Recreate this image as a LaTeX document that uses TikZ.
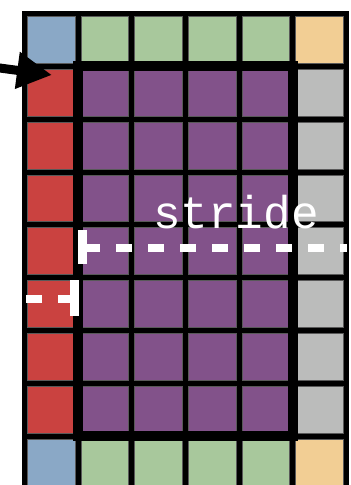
\documentclass[tikz,border=0pt]{standalone}
\usepackage{fontspec}
\newfontfamily\stridefont{Liberation Mono}
\usetikzlibrary{arrows.meta}
\definecolor{cblue}{RGB}{138,168,198}
\definecolor{cgreen}{RGB}{168,200,156}
\definecolor{corange}{RGB}{242,206,148}
\definecolor{cred}{RGB}{202,66,64}
\definecolor{cpurple}{RGB}{130,82,138}
\definecolor{cgray}{RGB}{187,188,187}
\begin{document}
\begin{tikzpicture}[x=1pt,y=-1pt,
  cell/.style={draw=black!65, line width=0.6pt, minimum width=47.6pt, minimum height=46.8pt, inner sep=0pt, outer sep=0pt},
  thickbox/.style={line width=10pt},
  dashline/.style={white, line width=8pt, dash pattern=on 16pt off 16pt},
  tickline/.style={white, line width=8.5pt},
  label/.style={text=white, font=\stridefont\fontsize{46}{46}\selectfont, anchor=base, inner sep=0pt}]
\useasboundingbox (0,0) rectangle (351,485);
\def\cw{53.6}
\def\ch{52.8}
\def\xo{24.5}
\def\yo{13.5}
% black background forming the grid lines
\fill[black] ({\xo-2.5},{\yo-2.5}) rectangle ({\xo+6*\cw+2.5},{\yo+9*\ch+2.5});
% cells
\foreach \r in {0,8}
  \foreach \c/\col in {0/cblue,1/cgreen,2/cgreen,3/cgreen,4/cgreen,5/corange}
    \node[cell,fill=\col] (c-\r-\c) at ({\xo+(\c+0.5)*\cw},{\yo+(\r+0.5)*\ch}) {};
\foreach \r in {1,...,7}
  \foreach \c/\col in {0/cred,1/cpurple,2/cpurple,3/cpurple,4/cpurple,5/cgray}
    \node[cell,fill=\col] (c-\r-\c) at ({\xo+(\c+0.5)*\cw},{\yo+(\r+0.5)*\ch}) {};
% thick inner rectangle
\coordinate (inTL) at ({\xo+\cw},{\yo+\ch});
\coordinate (inBR) at ({\xo+5*\cw},{\yo+8*\ch});
\draw[thickbox] (inTL) rectangle (inBR);
% label
\node[label] (stride) at (236,228) {stride};
% upper stride marker
\coordinate (ut0) at (82.5,230);
\coordinate (ut1) at (82.5,264);
\coordinate (u0) at (84,248);
\coordinate (u1) at (347,248);
\draw[dashline] (u0) -- (u1);
\draw[tickline] (ut0) -- (ut1);
% lower stride marker
\coordinate (lt0) at (74.5,280);
\coordinate (lt1) at (74.5,316);
\coordinate (l0) at (74,298.5);
\coordinate (l1) at (26,298.5);
\draw[dashline] (l0) -- (l1);
\draw[tickline] (lt0) -- (lt1);
% arrow
\coordinate (a0) at (-4,67.5);
\coordinate (a1) at (52,75);
\draw[line width=9pt, -{Triangle[length=35pt,width=35pt]}] (a0) -- (a1);
\end{tikzpicture}
\end{document}
